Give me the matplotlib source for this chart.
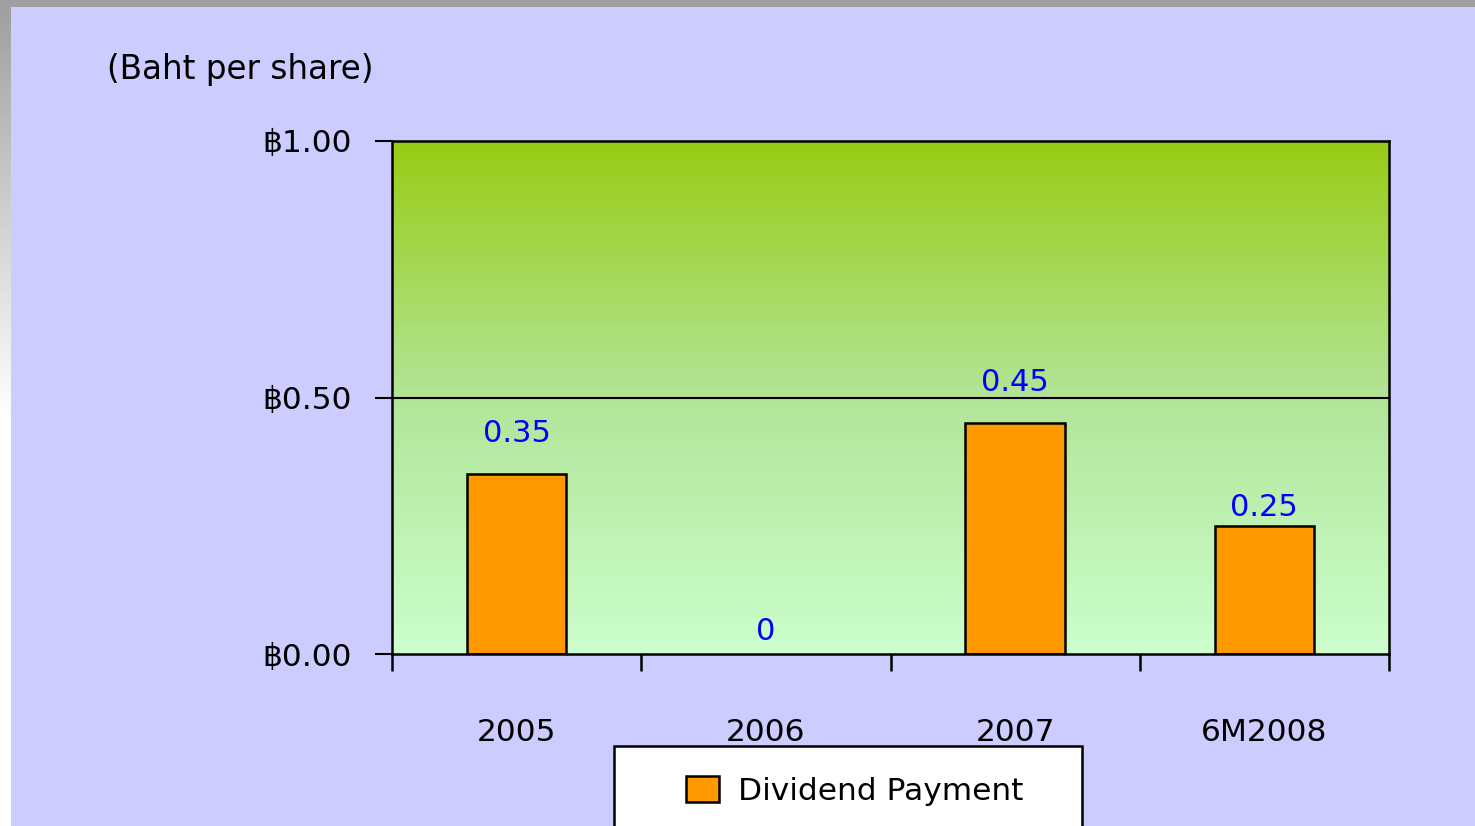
import numpy as np
import matplotlib
matplotlib.use("Agg")
import matplotlib.pyplot as plt
from matplotlib.colors import LinearSegmentedColormap
from matplotlib.patches import Rectangle

plt.rcParams['font.family'] = ['DejaVu Sans', 'Liberation Sans']

# data
years = ["2005", "2006", "2007", "6M2008"]
dividend = [0.35, 0.0, 0.45, 0.25]
label_text = ["0.35", "0", "0.45", "0.25"]
yticks = [0.0, 0.5, 1.0]
ytick_labels = ["\u0e3f0.00", "\u0e3f0.50", "\u0e3f1.00"]
label_offsets = [29.5, 16.5, 29.5, 13]  # points above bar top, as placed in the original

W, H = 1475, 826
fig = plt.figure(figsize=(W / 100, H / 100), dpi=100)
fig.patch.set_facecolor("#CCCCFF")

# grey frame: top band + left fading strip
fig.add_artist(Rectangle((0, 1 - 7 / H), 1, 7 / H, transform=fig.transFigure,
                         facecolor="#A0A0A0", edgecolor="none", zorder=0))
strip = fig.add_axes([0, 0, 11 / W, 1 - 7 / H])
strip.imshow(np.linspace(0, 1, 256).reshape(-1, 1), aspect="auto",
             cmap=LinearSegmentedColormap.from_list("g", ["#A0A0A0", "#FFFFFF", "#FFFFFF"]),
             extent=[0, 1, 0, 1])
strip.axis("off")

ax = fig.add_axes([392 / W, 1 - 654 / H, 997 / W, 513 / H])
ax.set_xlim(0, 4)
ax.set_ylim(0, 1)

# gradient plot area
grad = LinearSegmentedColormap.from_list("bg", [(0, "#CCFFCC"), (0.5, "#B2E598"), (1, "#99CC14")])
ax.imshow(np.linspace(0, 1, 256).reshape(-1, 1), aspect="auto", cmap=grad,
          extent=[0, 4, 0, 1], origin="lower", zorder=0)

ax.axhline(0.5, color="black", lw=1.5, zorder=1)

x = np.arange(len(years)) + 0.5
bars = ax.bar(x, dividend, width=0.4, color="#FF9900", edgecolor="black",
              lw=[1.8 if v > 0 else 0 for v in dividend], zorder=2)
for xi, v, t, off in zip(x, dividend, label_text, label_offsets):
    ax.annotate(t, (xi, v), xytext=(0, off), textcoords="offset points",
                ha="center", va="center", color="#0000FF", fontsize=22)

for s in ax.spines.values():
    s.set_linewidth(1.8)
    s.set_color("black")
    s.set_zorder(3)

ax.set_yticks(yticks)
ax.set_yticklabels(ytick_labels, fontsize=22.5)
ax.tick_params(axis="y", length=12, width=1.5, pad=17)

ax.set_xticks(np.arange(len(years) + 1))
ax.set_xticklabels([])
ax.set_xticks(x, minor=True)
ax.set_xticklabels(years, minor=True, fontsize=22.5)
ax.tick_params(axis="x", which="major", length=12, width=1.8, direction="out")
ax.tick_params(axis="x", which="minor", length=0, pad=46)

fig.text(107 / W, 1 - 69 / H, "(Baht per share)", fontsize=23.5, va="center", ha="left")

# legend box (runs off the bottom edge like the original)
fig.add_artist(Rectangle((614 / W, -0.05), (1082 - 614) / W, 0.05 + 1 - 746 / H,
                         transform=fig.transFigure, facecolor="white",
                         edgecolor="black", lw=1.8, zorder=4))
leg = fig.legend(handles=[bars], labels=["Dividend Payment"], loc="upper left",
                 bbox_to_anchor=(686 / W, 1 - 776 / H), frameon=False,
                 fontsize=22.5, handlelength=1.06, handleheight=0.9, borderpad=0,
                 handletextpad=0.6, borderaxespad=0)
leg.set_zorder(5)

plt.savefig("out.png", dpi=100, facecolor=fig.get_facecolor())
